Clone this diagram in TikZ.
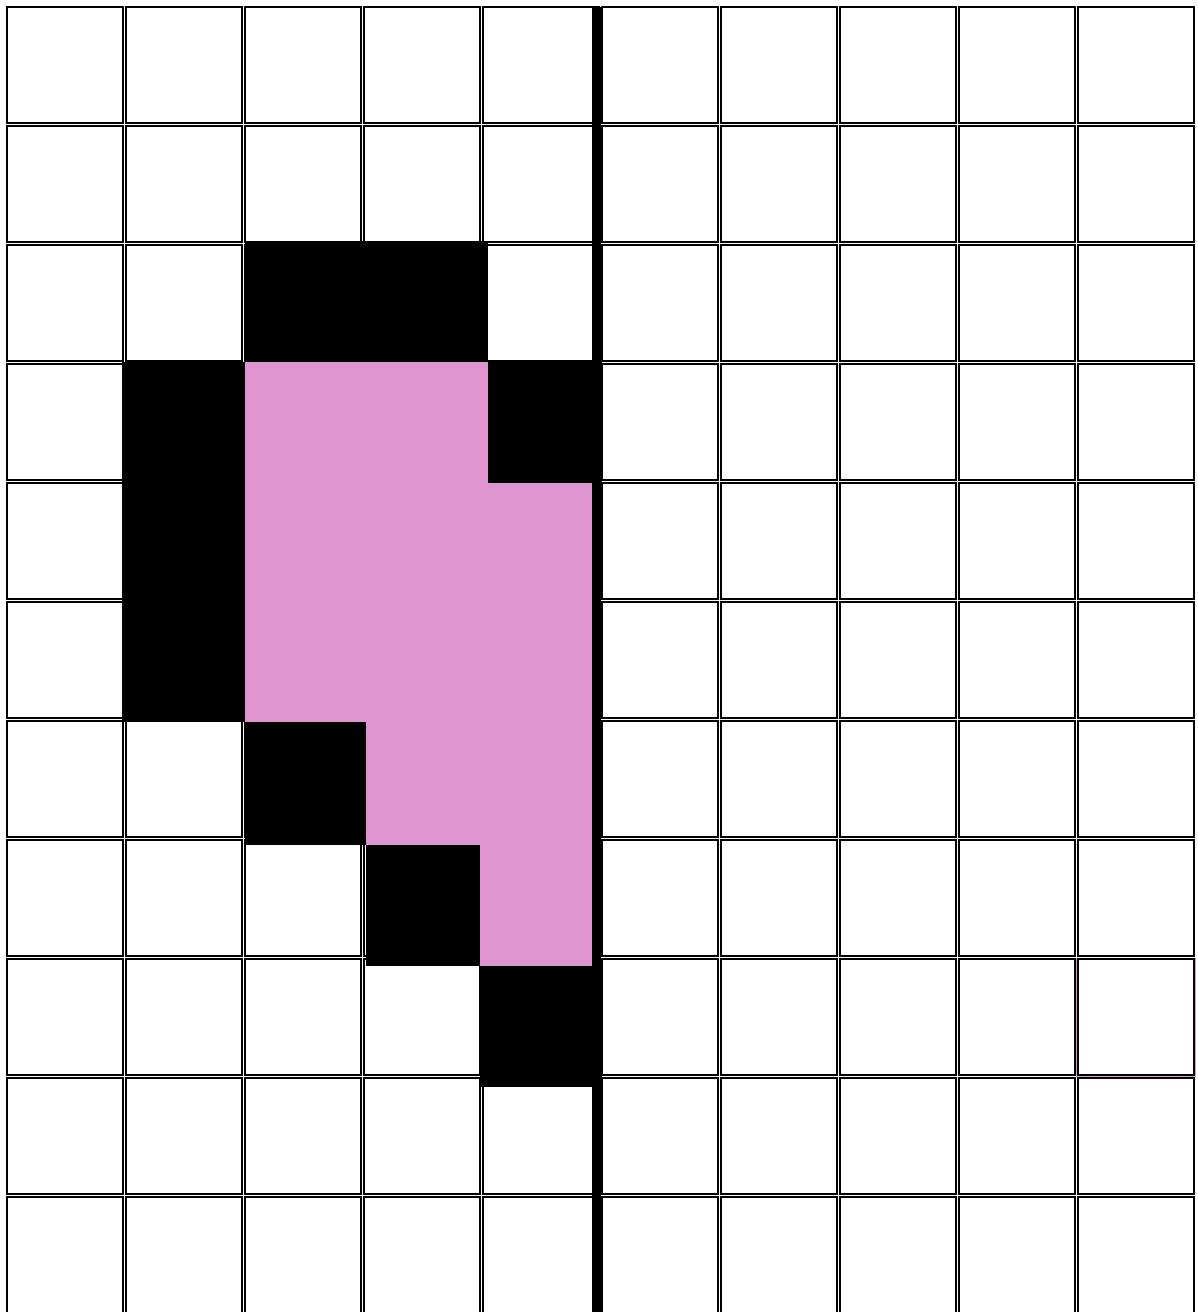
\documentclass[tikz,border=0pt]{standalone}
\definecolor{pinkfill}{RGB}{222,148,206}
\tikzset{
  cellbox/.style={draw=black, line width=2.2pt, fill=white},
  blackbox/.style={fill=black, draw=none},
  pinkbox/.style={fill=pinkfill, draw=none},
  wall/.style={draw=black, line width=9.5pt},
  pinkedge/.style={draw=pinkfill, line width=1.2pt}
}
\begin{document}
\begin{tikzpicture}[x=1pt,y=-1pt]
\useasboundingbox (0,0) rectangle (1197,1312);
\fill[white] (0,0) rectangle (1197,1312);
% pink outline under cell (9,8)
\draw[pinkedge] (1077,958.5) rectangle (1195,1076.5);
% grid of cells
\foreach \i in {0,...,9}{
  \foreach \j in {0,...,10}{
    \draw[cellbox] ({7+119*\i},{7+119*\j}) rectangle ++(116,116);
  }
}
% pink region
\fill[pinkbox] (245,362) -- (488,362) -- (488,483) -- (592,483) -- (592,966)
  -- (480,966) -- (480,845) -- (366,845) -- (366,722) -- (245,722) -- cycle;
% black cells
\fill[blackbox] (245,241) rectangle (488,362);
\fill[blackbox] (122,362) rectangle (245,722);
\fill[blackbox] (488,362) rectangle (602,483);
\fill[blackbox] (245,722) rectangle (366,845);
\fill[blackbox] (366,845) rectangle (480,966);
\fill[blackbox] (480,966) rectangle (602,1087);
% thick vertical wall
\draw[wall] (596.5,7) -- (596.5,1312);
\end{tikzpicture}
\end{document}
